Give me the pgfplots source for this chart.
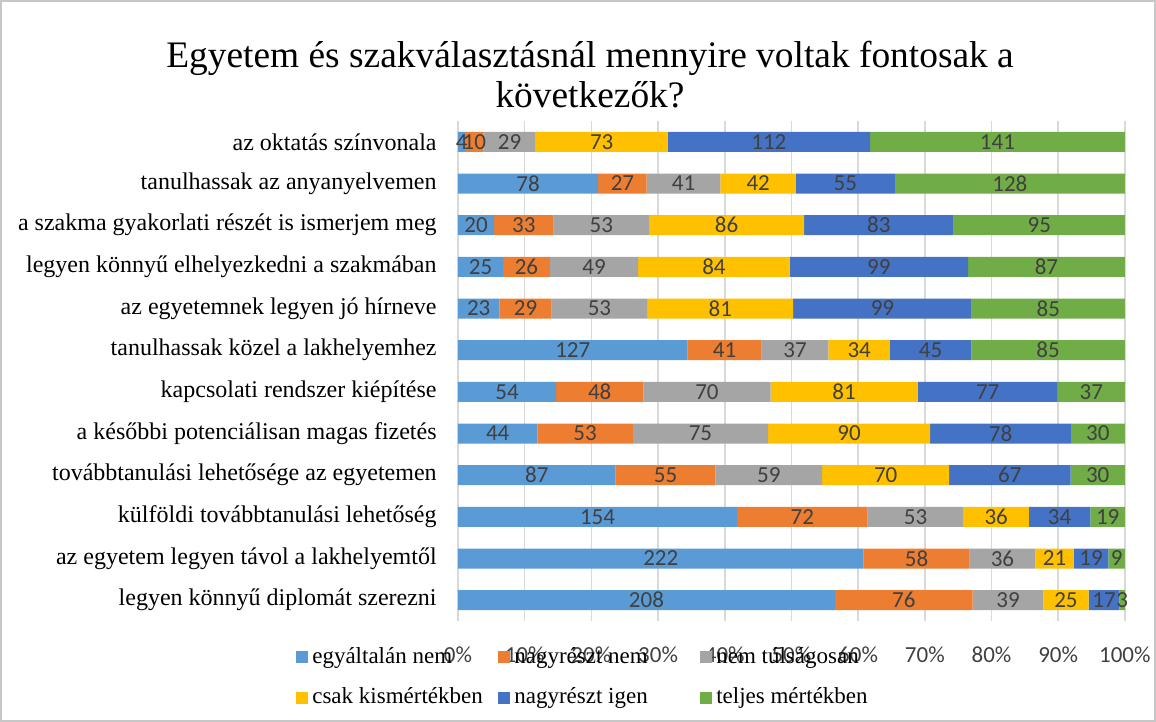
\documentclass[border=0pt]{standalone}
\usepackage{pgfplots}
\pgfplotsset{compat=1.18}
\usepackage{pgfplotstable}
\usepackage{fontspec}
\setmainfont{Liberation Serif}
\newfontfamily\carlito{Carlito}
\definecolor{c1}{HTML}{5B9BD5}
\definecolor{c2}{HTML}{ED7D31}
\definecolor{c3}{HTML}{A5A5A5}
\definecolor{c4}{HTML}{FFC000}
\definecolor{c5}{HTML}{4472C4}
\definecolor{c6}{HTML}{70AD47}
\definecolor{txt}{HTML}{404040}

\pgfplotstableread{
a b c d e f
4 10 29 73 112 141
78 27 41 42 55 128
20 33 53 86 83 95
25 26 49 84 99 87
23 29 53 81 99 85
127 41 37 34 45 85
54 48 70 81 77 37
44 53 75 90 78 30
87 55 59 70 67 30
154 72 53 36 34 19
222 58 36 21 19 9
208 76 39 25 17 3
}\data
\pgfplotstablecreatecol[create col/expr={\thisrow{a}+\thisrow{b}+\thisrow{c}+\thisrow{d}+\thisrow{e}+\thisrow{f}}]{t}\data
\newcommand\legbox[1]{\makebox[91pt][l]{#1}}
\pgfplotsset{
  common/.style={
    at={(229pt,50.5pt)}, anchor=south west,
    scale only axis, width=333.5pt, height=250pt,
    xbar stacked, bar width=10pt,
    xmin=0, xmax=100.02, ymin=-0.5, ymax=11.5, y dir=reverse,
    /pgf/number format/assume math mode=true,
  },
}

\begin{document}
\begin{tikzpicture}
\useasboundingbox (0,0) rectangle (578pt,361pt);
\draw[black!22, line width=0.8pt] (0.4pt,0.4pt) rectangle (577.6pt,360.6pt);
\node[font=\fontsize{18.7}{20}\selectfont, align=center] at (295pt,323.5pt)
  {Egyetem és szakválasztásnál mennyire voltak fontosak a\\következők?};
\begin{axis}[
  common,
  xtick={0,10,...,100},
  xticklabel={\pgfmathprintnumber{\tick}\%},
  ytick={0,...,11},
  yticklabels={az oktatás színvonala, tanulhassak az anyanyelvemen, a szakma gyakorlati részét is ismerjem meg, legyen könnyű elhelyezkedni a szakmában, az egyetemnek legyen jó hírneve, tanulhassak közel a lakhelyemhez, kapcsolati rendszer kiépítése, a későbbi potenciálisan magas fizetés, továbbtanulási lehetősége az egyetemen, külföldi továbbtanulási lehetőség, az egyetem legyen távol a lakhelyemtől, legyen könnyű diplomát szerezni},
  axis line style={draw=none}, major tick length=0pt,
  xmajorgrids, major grid style={draw=black!15, line width=0.8pt},
  xticklabel style={font=\carlito\fontsize{11.5}{13}\selectfont, text=txt, anchor=center, yshift=-17pt},
  yticklabel style={font=\fontsize{12}{13}\selectfont, anchor=east, inner sep=0pt, xshift=-10.5pt},
  legend columns=3,
  legend cell align=left,
  legend image code/.code={\fill[#1] (0pt,-3pt) rectangle (6pt,3pt);},
  legend style={at={(-0.252,-0.112)}, anchor=west, draw=none, fill=none,
    font=\fontsize{11.5}{13}\selectfont, row sep=7pt},
]
\addplot[fill=c1, draw=none] table[x expr=\thisrow{a}/\thisrow{t}*100, y expr=\coordindex] {\data};
\addplot[fill=c2, draw=none] table[x expr=\thisrow{b}/\thisrow{t}*100, y expr=\coordindex] {\data};
\addplot[fill=c3, draw=none] table[x expr=\thisrow{c}/\thisrow{t}*100, y expr=\coordindex] {\data};
\addplot[fill=c4, draw=none] table[x expr=\thisrow{d}/\thisrow{t}*100, y expr=\coordindex] {\data};
\addplot[fill=c5, draw=none] table[x expr=\thisrow{e}/\thisrow{t}*100, y expr=\coordindex] {\data};
\addplot[fill=c6, draw=none] table[x expr=\thisrow{f}/\thisrow{t}*100, y expr=\coordindex] {\data};
\legend{\legbox{egyáltalán nem}, \legbox{nagyrészt nem}, \legbox{nem túlságosan}, \legbox{csak kismértékben}, \legbox{nagyrészt igen}, \legbox{teljes mértékben}}
\end{axis}
\begin{axis}[
  common, hide axis,
  point meta=explicit,
  nodes near coords={\pgfmathprintnumber{\pgfplotspointmeta}},
  every node near coord/.append style={font=\carlito\fontsize{11.5}{13}\selectfont, text=txt, anchor=center},
]
\addplot[draw=none, fill=none] table[x expr=\thisrow{a}/\thisrow{t}*100, y expr=\coordindex, meta=a] {\data};
\addplot[draw=none, fill=none] table[x expr=\thisrow{b}/\thisrow{t}*100, y expr=\coordindex, meta=b] {\data};
\addplot[draw=none, fill=none] table[x expr=\thisrow{c}/\thisrow{t}*100, y expr=\coordindex, meta=c] {\data};
\addplot[draw=none, fill=none] table[x expr=\thisrow{d}/\thisrow{t}*100, y expr=\coordindex, meta=d] {\data};
\addplot[draw=none, fill=none] table[x expr=\thisrow{e}/\thisrow{t}*100, y expr=\coordindex, meta=e] {\data};
\addplot[draw=none, fill=none] table[x expr=\thisrow{f}/\thisrow{t}*100, y expr=\coordindex, meta=f] {\data};
\end{axis}
\end{tikzpicture}
\end{document}
